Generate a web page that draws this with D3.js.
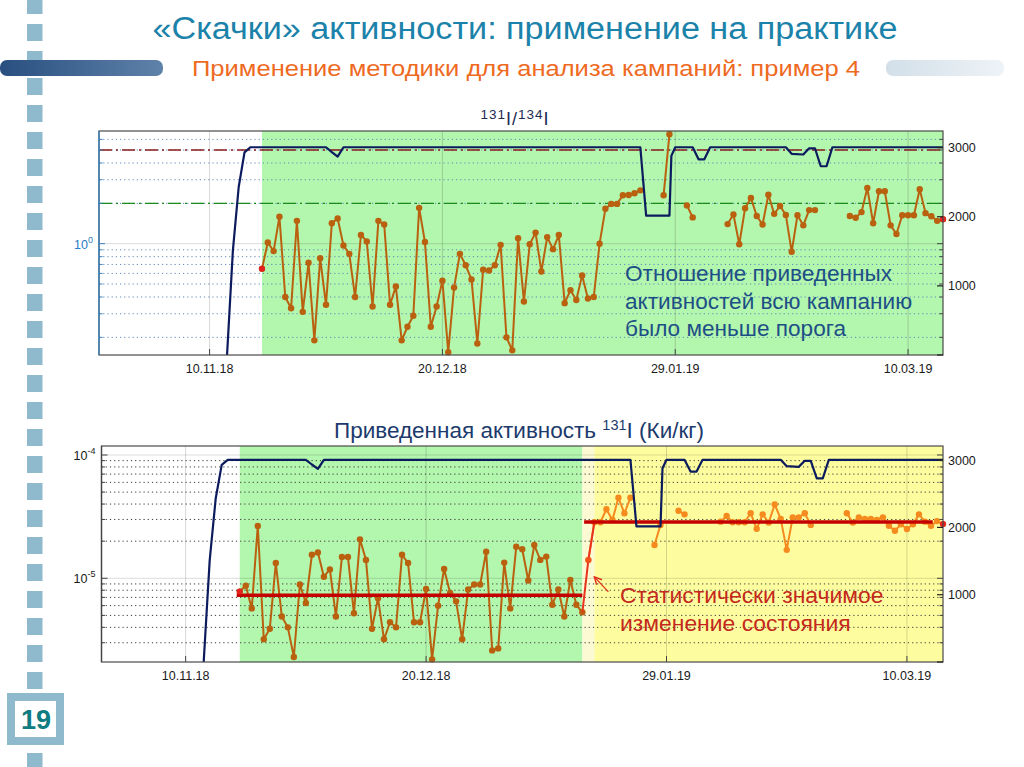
<!DOCTYPE html>
<html>
<head>
<meta charset="utf-8">
<script src="https://cdn.jsdelivr.net/npm/d3@7"></script>
<style>
body { margin: 0; background: #fff; }
svg { display: block; }
</style>
</head>
<body>
<svg id="slide" width="1024" height="767"></svg>
<script>
// ---- data ----
var tickDates = ["2018-11-10", "2018-12-20", "2019-01-29", "2019-03-10"];
var firstDay = "2018-11-19";          // daily samples from here, null = no sample
var ratioValues = [
	0.65, 1.02, 0.88, 1.59, 0.40, 0.33, 1.48, 0.31, 0.72, 0.19,
	0.78, 0.35, 1.42, 1.54, 0.97, 0.84, 0.40, 1.16, 1.04, 0.34,
	1.48, 1.39, 0.35, 0.48, 0.19, 0.24, 0.29, 1.85, 1.03, 0.24,
	0.34, 0.53, 0.155, 0.47, 0.84, 0.69, 0.54, 0.18, 0.64, 0.63,
	0.69, 0.98, 0.20, 0.16, 1.10, 0.37, 0.99, 1.21, 0.62, 1.12,
	0.91, 1.16, 0.36, 0.45, 0.38, 0.58, 0.39, 0.40, 1.00, 1.82,
	1.98, 1.98, 2.30, 2.31, 2.38, 2.50, null, null, null, 2.30,
	6.55, null, null, 1.93, 1.57, null, null, null, null, null,
	1.40, 1.65, 0.99, 1.84, 2.19, 1.61, 1.39, 2.32, 1.67, 1.91,
	1.64, 0.87, 1.63, 1.37, 1.78, 1.78, null, null, null, null,
	null, 1.61, 1.56, 1.72, 2.60, 1.42, 2.46, 2.46, 1.37, 1.18,
	1.63, 1.63, 1.63, 2.55, 1.69, 1.60, 1.48, 1.52
];
// reduced activity 131I, in 1e-6 Ci/kg
var activityValues = [
	7.8, 8.7, 5.7, 26.6, 3.2, 3.9, 13.3, 4.9, 4.0, 2.3,
	8.9, 6.3, 15.5, 16.2, 10.3, 11.8, 4.9, 14.9, 14.9, 5.2,
	20.7, 14.1, 3.9, 6.9, 3.2, 4.4, 4.0, 15.5, 13.3, 4.4,
	4.4, 8.2, 2.2, 6.0, 11.9, 7.6, 6.5, 3.2, 8.1, 8.9,
	8.9, 16.4, 2.6, 2.7, 13.4, 5.7, 18.0, 17.2, 9.6, 18.6,
	14.1, 15.0, 6.1, 8.1, 4.9, 9.7, 6.1, 5.3, 14.1, 28.5,
	28.5, 36.3, 29.7, 45.0, 33.7, 45.0, null, null, null, 18.6,
	27.1, null, null, 35.3, 33.0, null, null, null, null, null,
	28.8, 32.0, 28.5, 28.5, 28.5, 33.7, 25.2, 33.0, 28.3, 39.8,
	30.3, 17.0, 31.2, 31.2, 33.7, 27.1, null, null, null, null,
	null, 33.7, 28.3, 31.2, 30.3, 30.3, 29.7, 31.2, 26.7, 24.3,
	27.4, 25.1, 27.4, 33.0, 28.8, 26.7, 29.1, 27.5
];
var activityUnit = 1e-6;
var changeIndex = 58;                 // first sample after the change (16.01.19)
var ratioThresholds = [2, 5];
var meanFrom = ["2018-11-18T12:00", "2019-01-15T07:00"];
var meanTo = ["2019-01-15T00:00", "2019-03-14T07:00"];
var meanLevels = [7.3e-6, 2.86e-5];
var navyDates = ["2018-11-13", "2018-11-14", "2018-11-15", "2018-11-16", "2018-11-17",
	"2018-11-30", "2018-12-01", "2018-12-02", "2018-12-03", "2019-01-23", "2019-01-24",
	"2019-01-28", "2019-01-28T08:00", "2019-01-29", "2019-02-01", "2019-02-02", "2019-02-03",
	"2019-02-04", "2019-02-17", "2019-02-18", "2019-02-20", "2019-02-21", "2019-02-22",
	"2019-02-23", "2019-02-24", "2019-02-25", "2019-03-16"];
var navyValues = [0, 1510, 2430, 2930, 3005,
	3005, 2935, 2870, 3005, 3005, 2015,
	2015, 2880, 3005, 3005, 2830, 2830,
	3005, 3005, 2910, 2900, 2990, 2990,
	2730, 2730, 3005, 3005];
var rightTicks = [0, 1000, 2000, 3000];

var FONT = "'Liberation Sans', Arial, Helvetica, sans-serif";
var svg = d3.select("#slide");
var pDay = d3.utcParse("%Y-%m-%d"), pHour = d3.utcParse("%Y-%m-%dT%H:%M");
function parseT(s) { return s.length > 10 ? pHour(s) : pDay(s); }
var fmt = d3.utcFormat("%d.%m.%y");

function series(vals, scale) {
	var t0 = parseT(firstDay);
	return vals.map(function (v, i) {
		return {t: d3.utcDay.offset(t0, i), v: v == null ? null : v * scale, i: i};
	});
}
var navy = navyDates.map(function (d, i) { return {t: parseT(d), v: navyValues[i]}; });

// ---- slide decoration ----
var defs = svg.append("defs");
var gd = defs.append("linearGradient").attr("id", "barDark");
gd.append("stop").attr("offset", "0%").attr("stop-color", "#294f80");
gd.append("stop").attr("offset", "100%").attr("stop-color", "#5e82a9");
var gl = defs.append("linearGradient").attr("id", "barLight");
gl.append("stop").attr("offset", "0%").attr("stop-color", "#d2dfe9");
gl.append("stop").attr("offset", "100%").attr("stop-color", "#eef3f7");

svg.append("g").selectAll("rect").data(d3.range(29)).join("rect")
	.attr("x", 27).attr("y", function (k) { return -3 + 27 * k; })
	.attr("width", 15.5).attr("height", 17)
	.attr("fill", "#8fb9cc");
svg.append("rect").attr("x", 0).attr("y", 60).attr("width", 163).attr("height", 16)
	.attr("rx", 7).attr("fill", "url(#barDark)");
svg.append("rect").attr("x", 886).attr("y", 60).attr("width", 118).attr("height", 16)
	.attr("rx", 7).attr("fill", "url(#barLight)");
svg.append("rect").attr("x", 11).attr("y", 697).attr("width", 49).attr("height", 44)
	.attr("fill", "#fff").attr("stroke", "#8fb9cc").attr("stroke-width", 8);
svg.append("text").attr("x", 36).attr("y", 729).attr("text-anchor", "middle")
	.attr("font-family", FONT).attr("font-weight", "bold").attr("font-size", 27)
	.attr("fill", "#0e7c80").text("19");

svg.append("text").attr("x", 525).attr("y", 39).attr("text-anchor", "middle")
	.attr("font-family", FONT).attr("font-size", 31).attr("fill", "#1b82aa")
	.attr("textLength", 745).attr("lengthAdjust", "spacingAndGlyphs")
	.text("«Скачки» активности: применение на практике");
svg.append("text").attr("x", 526).attr("y", 76).attr("text-anchor", "middle")
	.attr("font-family", FONT).attr("font-size", 22).attr("fill", "#ee6a1f")
	.attr("textLength", 668).attr("lengthAdjust", "spacingAndGlyphs")
	.text("Применение методики для анализа кампаний: пример 4");

// ---- one plotyy-like panel ----
function isMajor(v) { return Math.abs(Math.log10(v) - Math.round(Math.log10(v))) < 1e-9; }

function drawPanel(p) {
	var x = d3.scaleUtc().domain([parseT(p.xFrom), parseT(p.xTo)]).range([p.left, p.right]);
	var yL = d3.scaleLog().domain(p.logDomain).range([p.bottom, p.top]);
	var yR = d3.scaleLinear().domain([0, p.rightMax]).range([p.bottom, p.top]);
	var g = svg.append("g");
	g.append("clipPath").attr("id", p.id + "clip").append("rect")
		.attr("x", p.left).attr("y", p.top)
		.attr("width", p.right - p.left).attr("height", p.bottom - p.top);
	g.append("rect").attr("x", p.left).attr("y", p.top)
		.attr("width", p.right - p.left).attr("height", p.bottom - p.top).attr("fill", "#fff");
	g.selectAll("rect.shade").data(p.shades).join("rect").attr("class", "shade")
		.attr("x", function (d) { return x(parseT(d.from)); })
		.attr("y", p.top)
		.attr("width", function (d) { return x(parseT(d.to)) - x(parseT(d.from)); })
		.attr("height", p.bottom - p.top)
		.attr("fill", function (d) { return d.fill; });

	var lt = yL.ticks();
	g.selectAll("line.hgrid").data(lt).join("line").attr("class", "hgrid")
		.attr("x1", p.left).attr("x2", p.right)
		.attr("y1", function (d) { return yL(d); }).attr("y2", function (d) { return yL(d); })
		.attr("stroke", function (d) { return isMajor(d) ? "rgba(0,0,0,0.14)" : p.minorColor; })
		.attr("stroke-dasharray", function (d) { return isMajor(d) ? null : "1.2,3"; })
		.attr("stroke-width", 1);
	g.selectAll("line.vgrid").data(tickDates).join("line").attr("class", "vgrid")
		.attr("x1", function (d) { return x(parseT(d)); }).attr("x2", function (d) { return x(parseT(d)); })
		.attr("y1", p.top).attr("y2", p.bottom)
		.attr("stroke", "rgba(0,0,0,0.16)");
	g.selectAll("text.xl").data(tickDates).join("text").attr("class", "xl")
		.attr("x", function (d) { return x(parseT(d)); }).attr("y", p.bottom + 18)
		.attr("text-anchor", "middle").attr("font-family", FONT).attr("font-size", 12.5)
		.attr("fill", "#1a1a1a").text(function (d) { return fmt(parseT(d)); });
	return {x: x, yL: yL, yR: yR, g: g, lt: lt, p: p};
}

function finishPanel(P) {
	var p = P.p, g = P.g;
	g.append("rect").attr("x", p.left).attr("y", p.top)
		.attr("width", p.right - p.left).attr("height", p.bottom - p.top)
		.attr("fill", "none").attr("stroke", "#4a4a4a").attr("stroke-width", 1.2);
	g.append("line").attr("x1", p.left).attr("x2", p.left).attr("y1", p.top).attr("y2", p.bottom)
		.attr("stroke", p.axisColor).attr("stroke-width", 1.3);
	g.selectAll("line.lt").data(P.lt).join("line").attr("class", "lt")
		.attr("x1", p.left).attr("x2", function (d) { return p.left + (isMajor(d) ? 6 : 3.5); })
		.attr("y1", function (d) { return P.yL(d); }).attr("y2", function (d) { return P.yL(d); })
		.attr("stroke", p.axisColor);
	g.selectAll("line.lt2").data(P.lt).join("line").attr("class", "lt2")
		.attr("x1", p.right).attr("x2", function (d) { return p.right - (isMajor(d) ? 6 : 3.5); })
		.attr("y1", function (d) { return P.yL(d); }).attr("y2", function (d) { return P.yL(d); })
		.attr("stroke", "#444");
	g.selectAll("line.rt").data(rightTicks).join("line").attr("class", "rt")
		.attr("x1", p.right).attr("x2", p.right - 6)
		.attr("y1", function (d) { return P.yR(d); }).attr("y2", function (d) { return P.yR(d); })
		.attr("stroke", "#222").attr("stroke-width", 1.2);
	g.selectAll("line.xt").data(tickDates).join("line").attr("class", "xt")
		.attr("x1", function (d) { return P.x(parseT(d)); }).attr("x2", function (d) { return P.x(parseT(d)); })
		.attr("y1", p.bottom).attr("y2", p.bottom - 6).attr("stroke", "#444");
	g.selectAll("text.rl").data(rightTicks.filter(function (d) { return d > 0; })).join("text").attr("class", "rl")
		.attr("x", p.right + 5).attr("y", function (d) { return P.yR(d) + 4.5; })
		.attr("font-family", FONT).attr("font-size", 12.5).attr("fill", "#1a1a1a")
		.text(function (d) { return d; });
	var lbl = g.selectAll("text.ll").data(P.lt.filter(isMajor)).join("text").attr("class", "ll")
		.attr("x", p.left - 6).attr("y", function (d) { return P.yL(d) + 5; })
		.attr("text-anchor", "end").attr("font-family", FONT).attr("fill", p.labelColor);
	lbl.append("tspan").attr("font-size", 12.5).text("10");
	lbl.append("tspan").attr("font-size", 9).attr("dy", -6)
		.text(function (d) { return String(Math.round(Math.log10(d))); });
}

function drawNavy(P) {
	P.g.append("path").datum(navy)
		.attr("clip-path", "url(#" + P.p.id + "clip)")
		.attr("fill", "none").attr("stroke", "#0c1a5e").attr("stroke-width", 2.2)
		.attr("stroke-linejoin", "round")
		.attr("d", d3.line().x(function (d) { return P.x(d.t); }).y(function (d) { return P.yR(d.v); }));
}

function drawDots(P, pts, color, r) {
	var ok = pts.filter(function (d) { return d.v != null; });
	P.g.append("path").datum(pts)
		.attr("clip-path", "url(#" + P.p.id + "clip)")
		.attr("fill", "none").attr("stroke", color).attr("stroke-width", 2)
		.attr("stroke-linejoin", "round")
		.attr("d", d3.line().defined(function (d) { return d.v != null; })
			.x(function (d) { return P.x(d.t); }).y(function (d) { return P.yL(d.v); }));
	P.g.append("g").selectAll("circle").data(ok).join("circle")
		.attr("cx", function (d) { return P.x(d.t); }).attr("cy", function (d) { return P.yL(d.v); })
		.attr("r", r).attr("fill", color);
}

// ---- top chart: 131I/134I ----
var ratio = series(ratioValues, 1);
var topP = drawPanel({
	id: "top", left: 99, right: 943, top: 131, bottom: 355,
	xFrom: "2018-10-22", xTo: "2019-03-16",
	logDomain: [0.1477, 6.93], rightMax: 3240,
	shades: [{from: "2018-11-19", to: "2019-03-16", fill: "#b3f6ae"}],
	minorColor: "#5f8bbd", axisColor: "#3580c0", labelColor: "#2a7cc4"
});
topP.g.selectAll("line.thr").data(ratioThresholds).join("line").attr("class", "thr")
	.attr("x1", 99).attr("x2", 943)
	.attr("y1", function (d) { return topP.yL(d); }).attr("y2", function (d) { return topP.yL(d); })
	.attr("stroke", function (d, i) { return i === 0 ? "#1b8c1b" : "#8b1c1c"; })
	.attr("stroke-width", 1.4).attr("stroke-dasharray", "13,4,2,4");
drawDots(topP, ratio, "#b9610f", 3.2);
drawNavy(topP);
topP.g.selectAll("circle.end").data([ratio[0], ratio[ratio.length - 1]]).join("circle").attr("class", "end")
	.attr("cx", function (d) { return topP.x(d.t); }).attr("cy", function (d) { return topP.yL(d.v); })
	.attr("r", 3).attr("fill", "#e42020");
finishPanel(topP);

var t1 = svg.append("text").attr("x", 515).attr("y", 125).attr("text-anchor", "middle")
	.attr("font-family", FONT).attr("fill", "#1b2a52").attr("letter-spacing", 1);
t1.append("tspan").attr("font-size", 13.5).attr("dy", -6).text("131");
t1.append("tspan").attr("font-size", 18).attr("dy", 6).text("I/");
t1.append("tspan").attr("font-size", 13.5).attr("dy", -6).text("134");
t1.append("tspan").attr("font-size", 18).attr("dy", 6).text("I");

var noteTop = ["Отношение приведенных", "активностей всю кампанию", "было меньше порога"];
svg.append("g").selectAll("text").data(noteTop).join("text")
	.attr("x", 625).attr("y", function (d, i) { return 281 + i * 27.5; })
	.attr("font-family", FONT).attr("font-size", 22.6).attr("fill", "#1d4f86")
	.text(function (d) { return d; });

// ---- bottom chart: reduced activity 131I ----
var act = series(activityValues, activityUnit);
var botP = drawPanel({
	id: "bot", left: 101.5, right: 943, top: 446, bottom: 662,
	xFrom: "2018-10-27", xTo: "2019-03-16",
	logDomain: [2.094e-6, 1.183e-4], rightMax: 3210,
	shades: [
		{from: "2018-11-19", to: "2019-01-15", fill: "#b3f6ae"},
		{from: "2019-01-15", to: "2019-01-17", fill: "#fcfad2"},
		{from: "2019-01-17", to: "2019-03-16", fill: "#fdfd9f"}
	],
	minorColor: "#3a3a3a", axisColor: "#444", labelColor: "#1a1a1a"
});
var before = act.slice(0, changeIndex), after = act.slice(changeIndex);
drawDots(botP, before, "#b9610f", 3.2);
drawDots(botP, after, "#f58a1f", 3.2);
botP.g.append("path").datum(act.slice(changeIndex - 1, changeIndex + 2))
	.attr("fill", "none").attr("stroke", "#e8341c").attr("stroke-width", 2)
	.attr("d", d3.line().x(function (d) { return botP.x(d.t); }).y(function (d) { return botP.yL(d.v); }));
botP.g.append("circle").attr("cx", botP.x(act[changeIndex].t)).attr("cy", botP.yL(act[changeIndex].v))
	.attr("r", 3).attr("fill", "#f0521e");
botP.g.selectAll("line.mean").data(meanLevels).join("line").attr("class", "mean")
	.attr("x1", function (d, i) { return botP.x(parseT(meanFrom[i])); })
	.attr("x2", function (d, i) { return botP.x(parseT(meanTo[i])); })
	.attr("y1", function (d) { return botP.yL(d); }).attr("y2", function (d) { return botP.yL(d); })
	.attr("stroke", "#c40000").attr("stroke-width", 3.5);
drawNavy(botP);
botP.g.selectAll("circle.end").data([act[0], act[act.length - 1]]).join("circle").attr("class", "end")
	.attr("cx", function (d) { return botP.x(d.t); }).attr("cy", function (d) { return botP.yL(d.v); })
	.attr("r", 3).attr("fill", "#e42020");
finishPanel(botP);

var t2 = svg.append("text").attr("x", 519).attr("y", 438).attr("text-anchor", "middle")
	.attr("font-family", FONT).attr("font-size", 22.5).attr("fill", "#1c3a6c");
t2.append("tspan").text("Приведенная активность ");
t2.append("tspan").attr("font-size", 14.5).attr("dy", -8).text("131");
t2.append("tspan").attr("dy", 8).text("I (Ки/кг)");

// arrow from the note to the change point
var cx = botP.x(act[changeIndex].t), cy = botP.yL(act[changeIndex].v);
defs.append("marker").attr("id", "arrowHead").attr("viewBox", "0 0 10 10")
	.attr("refX", 9).attr("refY", 5).attr("markerWidth", 7).attr("markerHeight", 7)
	.attr("orient", "auto").append("path").attr("d", "M1,1 L9,5 L1,9")
	.attr("fill", "none").attr("stroke", "#e0301e").attr("stroke-width", 1.6);
svg.append("line").attr("x1", cx + 20).attr("y1", cy + 32).attr("x2", cx + 6).attr("y2", cy + 17)
	.attr("stroke", "#e0301e").attr("stroke-width", 1.3).attr("marker-end", "url(#arrowHead)");

var noteBot = ["Статистически значимое", "изменение состояния"];
svg.append("g").selectAll("text").data(noteBot).join("text")
	.attr("x", 620).attr("y", function (d, i) { return 603 + i * 28; })
	.attr("font-family", FONT).attr("font-size", 22.9).attr("fill", "#c4281c")
	.text(function (d) { return d; });
</script>
</body>
</html>
